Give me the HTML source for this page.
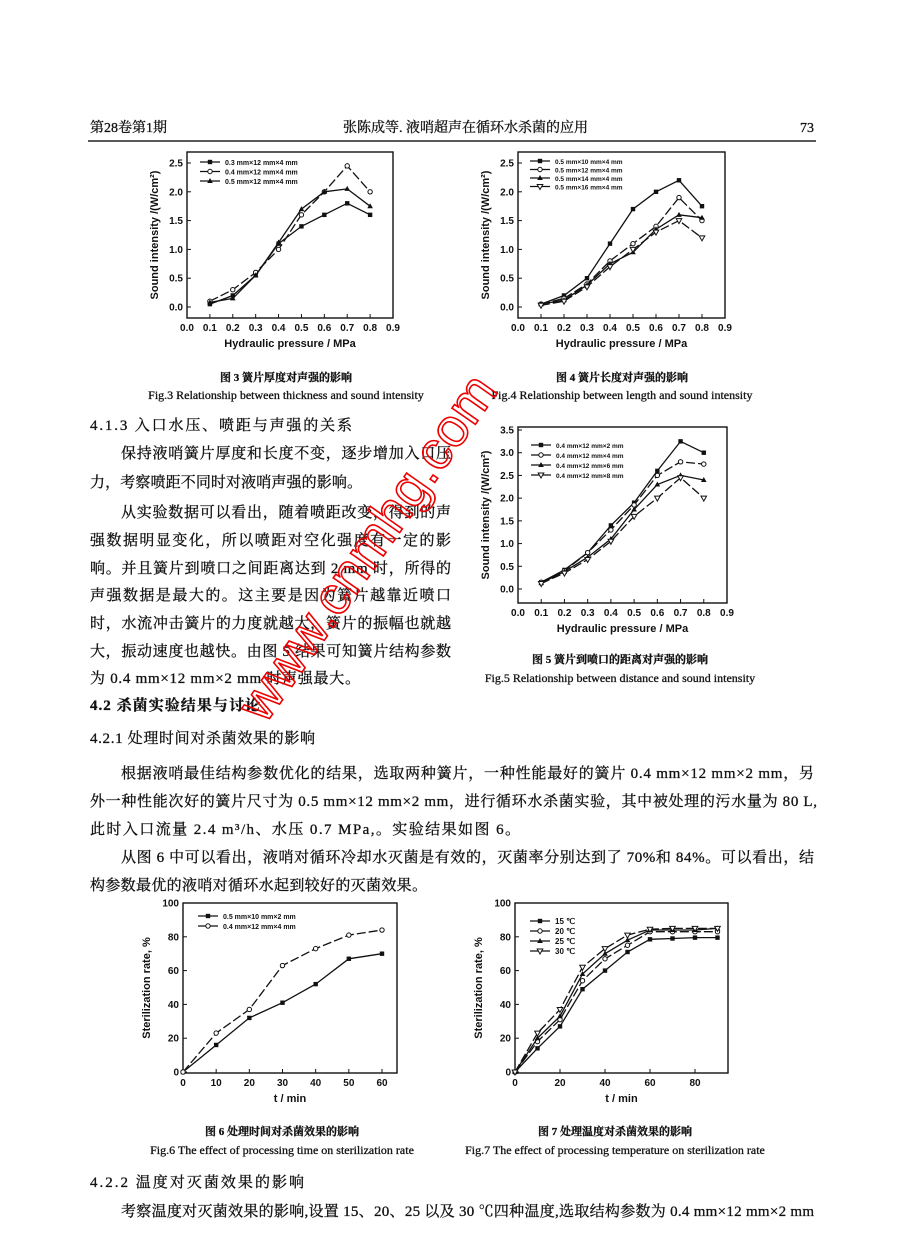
<!DOCTYPE html>
<html><head><meta charset="utf-8"><style>
html,body{margin:0;padding:0;background:#fff}
svg{display:block}
.cn{font-family:"Liberation Serif","Noto Serif CJK SC","Noto Sans CJK SC",serif;fill:#111;stroke:#111;stroke-width:0.3}
.ax{font-family:"Liberation Sans",sans-serif;font-weight:bold;fill:#111}
</style></head><body>
<svg id="s" width="904" height="1260" viewBox="0 0 904 1260" xmlns="http://www.w3.org/2000/svg">
<g class="cn" font-size="15">
<text x="90" y="132" font-size="14">第28卷第1期</text>
<text x="343" y="132" font-size="14">张陈成等. 液哨超声在循环水杀菌的应用</text>
<text x="800" y="132" font-size="14">73</text>
<line x1="88" y1="141" x2="816" y2="141" stroke="#222" stroke-width="1.5"/>
<text x="90" y="430" textLength="262">4.1.3 入口水压、喷距与声强的关系</text>
<text x="121" y="458" textLength="330">保持液哨簧片厚度和长度不变，逐步增加入口压</text>
<text x="90" y="487" textLength="272">力，考察喷距不同时对液哨声强的影响。</text>
<text x="121" y="517" textLength="330">从实验数据可以看出，随着喷距改变，得到的声</text>
<text x="90" y="545" textLength="361">强数据明显变化，所以喷距对空化强度有一定的影</text>
<text x="90" y="573" textLength="361">响。并且簧片到喷口之间距离达到 2 mm 时，所得的</text>
<text x="90" y="600" textLength="361">声强数据是最大的。这主要是因为簧片越靠近喷口</text>
<text x="90" y="628" textLength="361">时，水流冲击簧片的力度就越大，簧片的振幅也就越</text>
<text x="90" y="656" textLength="361">大，振动速度也越快。由图 5 结果可知簧片结构参数</text>
<text x="90" y="683" textLength="270">为 0.4 mm×12 mm×2 mm 时声强最大。</text>
<text x="90" y="710" font-weight="bold" textLength="170">4.2 杀菌实验结果与讨论</text>
<text x="90" y="743" textLength="225">4.2.1 处理时间对杀菌效果的影响</text>
<text x="121" y="778" textLength="693">根据液哨最佳结构参数优化的结果，选取两种簧片，一种性能最好的簧片 0.4 mm×12 mm×2 mm，另</text>
<text x="90" y="806" textLength="727">外一种性能次好的簧片尺寸为 0.5 mm×12 mm×2 mm，进行循环水杀菌实验，其中被处理的污水量为 80 L,</text>
<text x="90" y="834" textLength="430">此时入口流量 2.4 m³/h、水压 0.7 MPa,。实验结果如图 6。</text>
<text x="121" y="862" textLength="693">从图 6 中可以看出，液哨对循环冷却水灭菌是有效的，灭菌率分别达到了 70%和 84%。可以看出，结</text>
<text x="90" y="890" textLength="337">构参数最优的液哨对循环水起到较好的灭菌效果。</text>
<text x="90" y="1187" textLength="214">4.2.2 温度对灭菌效果的影响</text>
<text x="121" y="1216" textLength="693">考察温度对灭菌效果的影响,设置 15、20、25 以及 30 ℃四种温度,选取结构参数为 0.4 mm×12 mm×2 mm</text>
</g>
<g class="cn" font-size="11">
<text x="286" y="381" text-anchor="middle" font-weight="bold">图 3 簧片厚度对声强的影响</text>
<text x="286" y="399" text-anchor="middle" font-size="12">Fig.3 Relationship between thickness and sound intensity</text>
<text x="622" y="381" text-anchor="middle" font-weight="bold">图 4 簧片长度对声强的影响</text>
<text x="622" y="399" text-anchor="middle" font-size="12">Fig.4 Relationship between length and sound intensity</text>
<text x="620" y="663" text-anchor="middle" font-weight="bold">图 5 簧片到喷口的距离对声强的影响</text>
<text x="620" y="682" text-anchor="middle" font-size="12">Fig.5 Relationship between distance and sound intensity</text>
<text x="282" y="1135" text-anchor="middle" font-weight="bold">图 6 处理时间对杀菌效果的影响</text>
<text x="282" y="1154" text-anchor="middle" font-size="12">Fig.6 The effect of processing time on sterilization rate</text>
<text x="615" y="1135" text-anchor="middle" font-weight="bold">图 7 处理温度对杀菌效果的影响</text>
<text x="615" y="1154" text-anchor="middle" font-size="12">Fig.7 The effect of processing temperature on sterilization rate</text>
</g>
<g id="charts"></g>
<text x="0" y="0" transform="translate(265,725) rotate(-55)" font-family="Liberation Sans,sans-serif" font-size="54" fill="none" stroke="#e00" stroke-width="1.6">www.cnmhg.com</text>
</svg>
<script>
var NS="http://www.w3.org/2000/svg",G=document.getElementById("charts");
function el(t,a,txt){var e=document.createElementNS(NS,t);for(var k in a)e.setAttribute(k,a[k]);if(txt!=null)e.textContent=txt;G.appendChild(e);return e;}
function marker(x,y,m){
 if(m==0)el("rect",{x:x-2.2,y:y-2.2,width:4.4,height:4.4,fill:"#111"});
 else if(m==1)el("circle",{cx:x,cy:y,r:2.2,fill:"#fff",stroke:"#111","stroke-width":1});
 else if(m==2)el("path",{d:"M"+x+","+(y-3)+"L"+(x+2.8)+","+(y+2)+"L"+(x-2.8)+","+(y+2)+"Z",fill:"#111"});
 else el("path",{d:"M"+(x-2.8)+","+(y-2)+"L"+(x+2.8)+","+(y-2)+"L"+x+","+(y+3)+"Z",fill:"#fff",stroke:"#111","stroke-width":1});
}
function chart(c){
 var X=function(v){return c.x0+(v-c.xmin)/(c.xmax-c.xmin)*(c.x1-c.x0)};
 var Y=function(v){return c.yb+(v-c.ymin)/(c.ymax-c.ymin)*(c.yt-c.yb)};
 el("rect",{x:c.L,y:c.T,width:c.R-c.L,height:c.B-c.T,fill:"none",stroke:"#111","stroke-width":1.4});
 c.xt.forEach(function(v){var x=X(v);el("line",{x1:x,y1:c.B,x2:x,y2:c.B-4,stroke:"#111"});el("text",{x:x,y:c.B+13,"text-anchor":"middle","font-size":10,class:"ax"},c.xf(v));});
 c.yt_.forEach(function(v){var y=Y(v);el("line",{x1:c.L,y1:y,x2:c.L+4,y2:y,stroke:"#111"});el("text",{x:c.L-4,y:y+3.5,"text-anchor":"end","font-size":10,class:"ax"},c.yf(v));});
 el("text",{x:(c.L+c.R)/2,y:c.B+29,"text-anchor":"middle","font-size":11,class:"ax"},c.xl);
 el("text",{x:0,y:0,transform:"translate("+c.ylx+","+(c.T+c.B)/2+") rotate(-90)","text-anchor":"middle","font-size":11,class:"ax"},c.yl);
 c.s.forEach(function(s,i){
  var p=s.map(function(v,j){return X(c.xs[j]).toFixed(1)+","+Y(v).toFixed(1)}).join(" ");
  el("polyline",{points:p,fill:"none",stroke:"#111","stroke-width":1.3,"stroke-dasharray":(i%2==1)?"9,3":"none"});
  s.forEach(function(v,j){marker(X(c.xs[j]),Y(v),i)});
  var ly=c.ly+i*c.lg;
  el("line",{x1:c.lx,y1:ly,x2:c.lx+20,y2:ly,stroke:"#111","stroke-width":1.2});marker(c.lx+10,ly,i);
  el("text",{x:c.lx+25,y:ly+3,"font-size":c.lfs,class:"ax","font-weight":"normal"},c.lab[i]);
 });
}
var px=[0.1,0.2,0.3,0.4,0.5,0.6,0.7,0.8],pt=[0,.1,.2,.3,.4,.5,.6,.7,.8,.9];
function f1(v){return v.toFixed(1)}
chart({L:187,R:393,T:152,B:318,x0:187,x1:393,xmin:0,xmax:0.9,yb:307,yt:163,ymin:0,ymax:2.5,xt:pt,yt_:[0,.5,1,1.5,2,2.5],xf:f1,yf:f1,xl:"Hydraulic pressure / MPa",yl:"Sound intensity /(W/cm²)",ylx:158,xs:px,
 s:[[0.05,0.2,0.55,1.1,1.4,1.6,1.8,1.6],[0.1,0.3,0.6,1.0,1.6,2.0,2.45,2.0],[0.08,0.15,0.55,1.12,1.7,2.0,2.05,1.75]],
 lab:["0.3 mm×12 mm×4 mm","0.4 mm×12 mm×4 mm","0.5 mm×12 mm×4 mm"],lx:200,ly:162,lg:9.5,lfs:7});
chart({L:518,R:725,T:152,B:318,x0:518,x1:725,xmin:0,xmax:0.9,yb:307,yt:163,ymin:0,ymax:2.5,xt:pt,yt_:[0,.5,1,1.5,2,2.5],xf:f1,yf:f1,xl:"Hydraulic pressure / MPa",yl:"Sound intensity /(W/cm²)",ylx:489,xs:px,
 s:[[0.05,0.2,0.5,1.1,1.7,2.0,2.2,1.75],[0.05,0.15,0.4,0.8,1.1,1.4,1.9,1.5],[0.05,0.12,0.38,0.75,0.95,1.35,1.6,1.55],[0.03,0.1,0.35,0.7,1.0,1.3,1.5,1.2]],
 lab:["0.5 mm×10 mm×4 mm","0.5 mm×12 mm×4 mm","0.5 mm×14 mm×4 mm","0.5 mm×16 mm×4 mm"],lx:530,ly:161,lg:8.5,lfs:6.5});
chart({L:518,R:727,T:427,B:603,x0:518,x1:727,xmin:0,xmax:0.9,yb:589,yt:430,ymin:0,ymax:3.5,xt:pt,yt_:[0,.5,1,1.5,2,2.5,3,3.5],xf:f1,yf:f1,xl:"Hydraulic pressure / MPa",yl:"Sound intensity /(W/cm²)",ylx:489,xs:px,
 s:[[0.15,0.42,0.8,1.4,1.9,2.6,3.25,3.0],[0.15,0.4,0.8,1.3,1.85,2.5,2.8,2.75],[0.13,0.38,0.7,1.1,1.75,2.3,2.5,2.4],[0.12,0.35,0.65,1.05,1.6,2.0,2.45,2.0]],
 lab:["0.4 mm×12 mm×2 mm","0.4 mm×12 mm×4 mm","0.4 mm×12 mm×6 mm","0.4 mm×12 mm×8 mm"],lx:531,ly:445,lg:10,lfs:6.5});
function f0(v){return ""+v}
chart({L:183,R:397,T:903,B:1073,x0:183,x1:382,xmin:0,xmax:60,yb:1072,yt:903,ymin:0,ymax:100,xt:[0,10,20,30,40,50,60],yt_:[0,20,40,60,80,100],xf:f0,yf:f0,xl:"t / min",yl:"Sterilization rate, %",ylx:150,xs:[0,10,20,30,40,50,60],
 s:[[0,16,32,41,52,67,70],[0,23,37,63,73,81,84]],
 lab:["0.5 mm×10 mm×2 mm","0.4 mm×12 mm×4 mm"],lx:198,ly:916,lg:10,lfs:7});
chart({L:515,R:728,T:903,B:1073,x0:515,x1:695,xmin:0,xmax:80,yb:1072,yt:903,ymin:0,ymax:100,xt:[0,20,40,60,80],yt_:[0,20,40,60,80,100],xf:f0,yf:f0,xl:"t / min",yl:"Sterilization rate, %",ylx:482,xs:[0,10,20,30,40,50,60,70,80,90],
 s:[[0,14,27,49,60,71,78.5,79,79.5,79.5],[0,18,31,54,67,75,83,83,83,83],[0,20,33,58,70,78,84,84,84,85],[0,23,37,62,73,81,84.5,85,85,85]],
 lab:["15 ℃","20 ℃","25 ℃","30 ℃"],lx:530,ly:921,lg:10,lfs:8});
</script>
</body></html>
